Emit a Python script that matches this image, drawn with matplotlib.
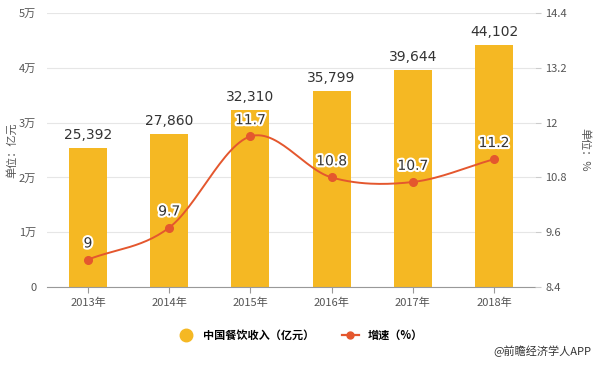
import numpy as np
import matplotlib
matplotlib.use('AGG')
import matplotlib.pyplot as plt
import matplotlib.patheffects as pe
from matplotlib.lines import Line2D

plt.rcParams['font.family'] = ['Noto Sans CJK SC', 'DejaVu Sans']

years = ['2013年', '2014年', '2015年', '2016年', '2017年', '2018年']
revenue = [25392, 27860, 32310, 35799, 39644, 44102]
growth = [9, 9.7, 11.7, 10.8, 10.7, 11.2]

bar_color = '#F5B823'
line_color = '#E4572E'


def smooth(x, y, n=30):
    # Catmull-Rom spline through the data points
    x = np.asarray(x, float)
    y = np.asarray(y, float)
    px = np.concatenate([[2 * x[0] - x[1]], x, [2 * x[-1] - x[-2]]])
    py = np.concatenate([[2 * y[0] - y[1]], y, [2 * y[-1] - y[-2]]])
    xs, ys = [], []
    t = np.linspace(0, 1, n)
    for i in range(1, len(px) - 2):
        for p, out in ((px, xs), (py, ys)):
            p0, p1, p2, p3 = p[i - 1], p[i], p[i + 1], p[i + 2]
            out.extend(0.5 * ((2 * p1) + (-p0 + p2) * t
                              + (2 * p0 - 5 * p1 + 4 * p2 - p3) * t ** 2
                              + (-p0 + 3 * p1 - 3 * p2 + p3) * t ** 3))
    return np.array(xs), np.array(ys)


fig = plt.figure(figsize=(6, 3.66), dpi=100)
ax = fig.add_axes([0.079, 0.216, 0.812, 0.748])
x = np.arange(len(years))

ax.bar(x, revenue, width=0.47, color=bar_color, zorder=2)
for xi, v in zip(x, revenue):
    ax.text(xi, v + 1100, f'{v:,}', ha='center', va='bottom',
            fontsize=10, color='#333333', family='DejaVu Sans', zorder=5)

ax.set_xlim(-0.5, len(years) - 0.5)
ax.set_ylim(0, 50000)
ax.set_yticks(range(0, 50001, 10000))
ax.set_yticklabels(['0', '1万', '2万', '3万', '4万', '5万'])
ax.set_xticks(x)
ax.set_xticklabels(years)
ax.grid(axis='y', color='#e6e6e6', linewidth=0.8, zorder=0)
for s in ['top', 'right', 'left']:
    ax.spines[s].set_visible(False)
ax.spines['bottom'].set_color('#999999')
ax.tick_params(axis='y', length=0, labelsize=8, colors='#555555', pad=8)
ax.tick_params(axis='x', length=4, color='#999999', labelsize=8, colors='#555555')

ax2 = ax.twinx()
sx, sy = smooth(x, growth)
ax2.plot(sx, sy, color=line_color, linewidth=1.4, zorder=3)
ax2.plot(x, growth, 'o', color=line_color, markersize=5.5, zorder=4)
for xi, v in zip(x, growth):
    ax2.text(xi, v + 0.2, f'{v:g}', ha='center', va='bottom', fontsize=10,
             color='#333333', family='DejaVu Sans', zorder=6,
             path_effects=[pe.withStroke(linewidth=3, foreground='white')])
ax2.set_ylim(8.4, 14.4)
ax2.set_yticks([8.4, 9.6, 10.8, 12, 13.2, 14.4])
ax2.set_yticklabels(['8.4', '9.6', '10.8', '12', '13.2', '14.4'])
for s in ['top', 'right', 'left', 'bottom']:
    ax2.spines[s].set_visible(False)
ax2.tick_params(axis='y', length=4, color='#cccccc', labelsize=8, colors='#555555')

fig.text(0.02, 0.59, '单位：亿元', rotation=90, ha='center', va='center',
         fontsize=8, color='#555555')
fig.text(0.975, 0.59, '单位：%', rotation=-90, ha='center', va='center',
         fontsize=8, color='#555555')

handles = [
    Line2D([], [], marker='o', linestyle='none', color=bar_color, markersize=9),
    Line2D([], [], marker='o', color=line_color, markersize=5, linewidth=1.6),
]
fig.legend(handles, ['中国餐饮收入（亿元）', '增速（%）'], loc='center',
           bbox_to_anchor=(0.5, 0.085), ncol=2, frameon=False,
           prop={'size': 8, 'weight': 'bold'}, handlelength=1.5,
           columnspacing=2.5)
fig.text(0.985, 0.025, '@前瞻经济学人APP', ha='right', va='bottom',
         fontsize=8, color='#333333')

fig.savefig('out.png', dpi=100)
